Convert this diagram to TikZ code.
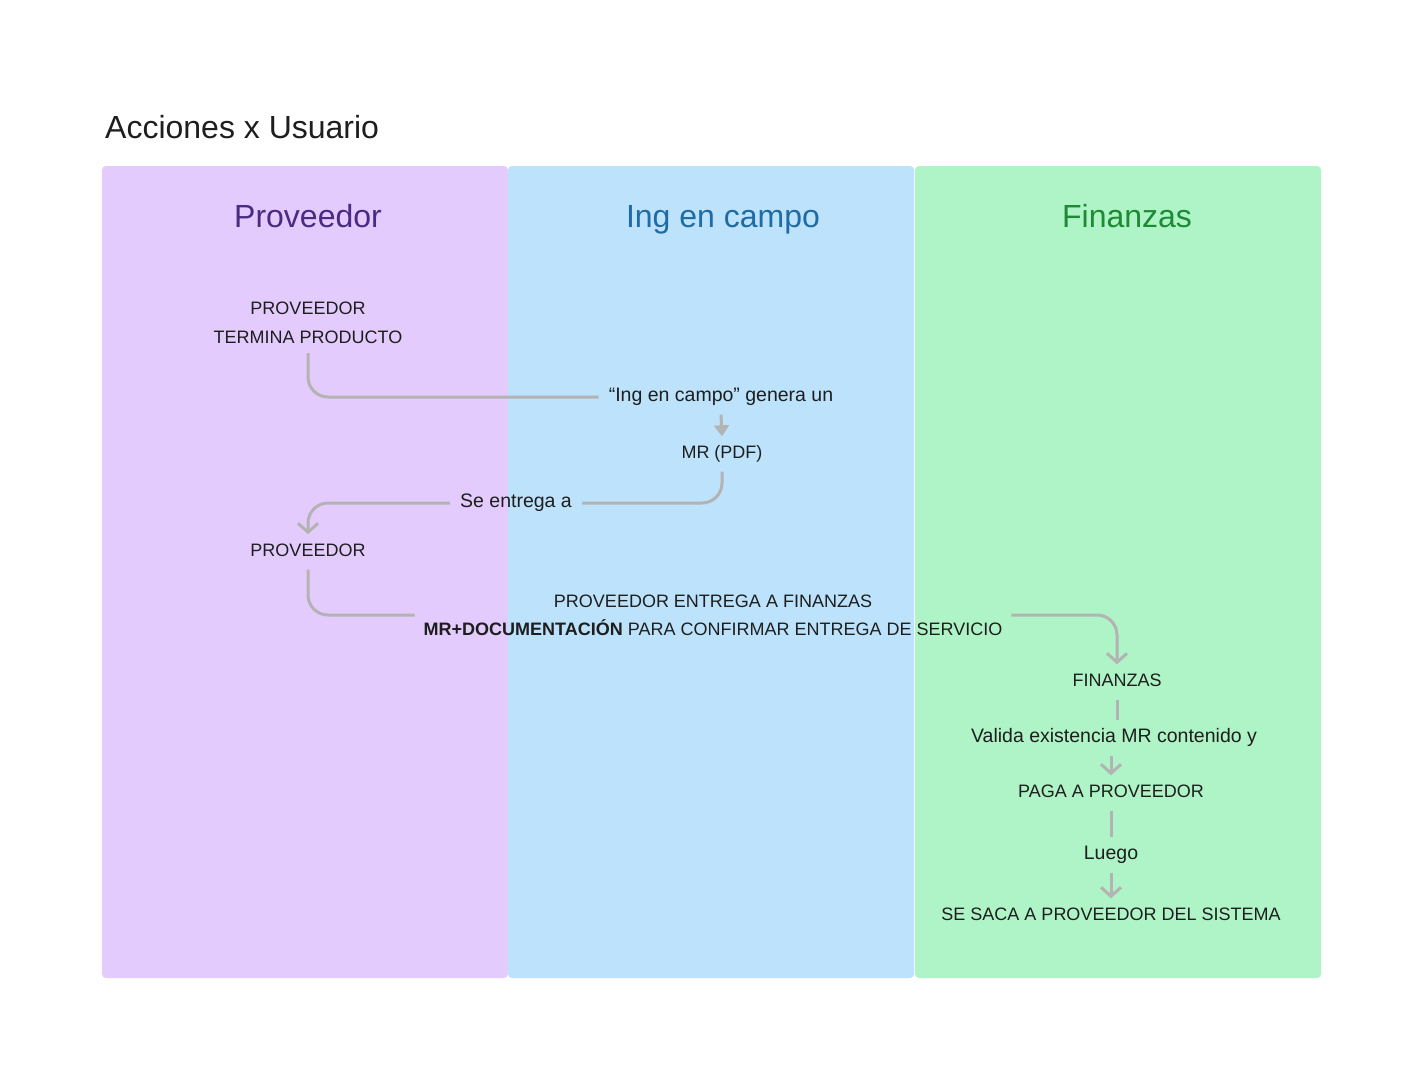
\documentclass[tikz,border=0pt]{standalone}
\usepackage{fontspec}
\setmainfont{Liberation Sans}
\usetikzlibrary{arrows.meta,positioning}
\definecolor{lila}{HTML}{E3CCFD}
\definecolor{celeste}{HTML}{BDE3FC}
\definecolor{verde}{HTML}{AFF4C6}
\definecolor{lilaosc}{HTML}{4B2A83}
\definecolor{celesteosc}{HTML}{1F6BA5}
\definecolor{verdeosc}{HTML}{1F8A36}
\definecolor{gris}{HTML}{B3B3B3}
\definecolor{tinta}{HTML}{1E1E1E}

\begin{document}
\begin{tikzpicture}[x=1pt, y=-1pt,
  lane/.style={rounded corners=4pt},
  head/.style={font=\fontsize{32}{38}\selectfont, anchor=base},
  txt/.style={font=\fontsize{18}{29}\selectfont, text=tinta, align=center, inner sep=9pt},
  uno/.style={txt, text height=13pt, text depth=4pt},
  minus/.style={font=\fontsize{19.5}{29}\selectfont},
  link/.style={draw=gris, line width=3pt, rounded corners=20pt},
  barb/.style={-{Straight Barb[length=9pt,width=20pt]}},
  fulltip/.style={-{Triangle[length=11pt,width=15pt]}}]
  \useasboundingbox (0,0) rectangle (1423,1080);

  % carriles
  \fill[lila, lane] (102,166) rectangle (508,978);
  \fill[celeste, lane] (508,166) rectangle (914,978);
  \fill[verde, lane] (915,166) rectangle (1321,978);

  \node[anchor=base west, inner sep=0pt, font=\fontsize{32}{38}\selectfont, text=tinta] (titulo) at (105,138) {Acciones x Usuario};
  \node[head, text=lilaosc] (prov) at (308,227) {Proveedor};
  \node[head, text=celesteosc] (ing) at (723,227) {Ing en campo};
  \node[head, text=verdeosc] (fin) at (1127,227) {Finanzas};

  % pasos
  \node[txt] (termina) at (308,323) {PROVEEDOR\\TERMINA PRODUCTO};
  \node[uno, minus, inner xsep=10pt] (genera) at (721,397) {“Ing en campo” genera un};
  \node[uno] (mr) at (722,454) {MR (PDF)};
  \node[uno, minus, inner xsep=10pt] (entrega) at (516,503) {Se entrega a};
  \node[uno] (prov2) at (308,552) {PROVEEDOR};
  \node[txt, font=\fontsize{18}{28}\selectfont] (bloque) at (713,615)
    {PROVEEDOR ENTREGA A FINANZAS\\\textbf{MR+DOCUMENTACIÓN} PARA CONFIRMAR ENTREGA DE SERVICIO};
  \node[uno] (finz) at (1117,682) {FINANZAS};
  \node[uno, minus] (valida) at (1114,738) {Valida existencia MR contenido y};
  \node[uno] (paga) at (1111,793) {PAGA A PROVEEDOR};
  \node[uno, minus] (luego) at (1111,855) {Luego};
  \node[uno] (saca) at (1111,916) {SE SACA A PROVEEDOR DEL SISTEMA};

  % conectores
  \draw[link] (termina.south) |- (genera.west);
  \draw[link, fulltip] (genera.south) -- (mr.north);
  \draw[link] (mr.south) |- (entrega.east);
  \draw[link, barb] (entrega.west) -| (prov2.north);
  \draw[link] (prov2.south) |- (bloque.west);
  \draw[link, barb] (bloque.east) -| (finz.north);
  \draw[link] (finz.south) -- (finz.south |- valida.north);
  \draw[link, barb] (valida.south -| paga.north) -- (paga.north);
  \draw[link] (paga.south) -- (luego.north);
  \draw[link, barb] (luego.south) -- (saca.north);
\end{tikzpicture}
\end{document}
